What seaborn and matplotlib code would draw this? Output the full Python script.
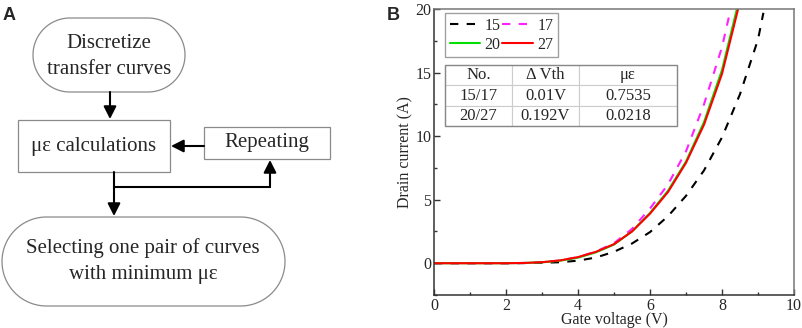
import numpy as np
import pandas as pd
import matplotlib
matplotlib.use("Agg")
import matplotlib.pyplot as plt
from matplotlib.patches import Rectangle, Polygon
from matplotlib.ticker import MultipleLocator
import seaborn as sns

sns.set_style("ticks")
plt.rcParams["font.family"] = ["Liberation Serif", "DejaVu Serif"]

# Transfer curves (gate voltage in V, drain current in A)
v_15 = [0, 0.5, 1, 1.5, 2, 2.5, 3, 3.5, 4, 4.5, 5, 5.5, 6, 6.5, 7, 7.5, 8, 8.5, 9, 9.15]
i_15 = [0, 0, 0, 0, 0, 0.01, 0.03, 0.08, 0.2, 0.45, 0.9, 1.55, 2.45, 3.7, 5.3, 7.3, 9.9, 13.3, 17.6, 19.7]
v_17 = [0, 0.5, 1, 1.5, 2, 2.5, 3, 3.5, 4, 4.5, 5, 5.5, 6, 6.5, 7, 7.5, 8, 8.25]
i_17 = [0, 0, 0, 0, 0, 0.02, 0.08, 0.22, 0.48, 0.92, 1.58, 2.7, 4.3, 6.2, 8.8, 12.5, 17.0, 20.1]
v_20 = [0, 0.5, 1, 1.5, 2, 2.5, 3, 3.5, 4, 4.5, 5, 5.5, 6, 6.5, 7, 7.5, 8, 8.5]
i_20 = [0, 0, 0, 0, 0, 0.02, 0.07, 0.2, 0.44, 0.86, 1.47, 2.5, 3.95, 5.7, 8.0, 11.1, 15.2, 21.0]
v_27 = [0, 0.5, 1, 1.5, 2, 2.5, 3, 3.5, 4, 4.5, 5, 5.5, 6, 6.5, 7, 7.5, 8, 8.5]
i_27 = [0, 0, 0, 0, 0, 0.02, 0.08, 0.22, 0.48, 0.9, 1.5, 2.5, 3.9, 5.6, 7.9, 10.9, 14.9, 20.6]

table_cols = ["No.", "\u0394 Vth", "\u03bc\u03b5"]
table_rows = [["15/17", "0.01V", "0.7535"],
              ["20/27", "0.192V", "0.0218"]]

fig = plt.figure(figsize=(8.03, 3.28), dpi=100)

# ---------------- Panel A: flowchart in pixel coordinates ----------------
axA = fig.add_axes([0, 0, 400 / 803, 1])
axA.set_xlim(0, 400)
axA.set_ylim(328, 0)
axA.axis("off")

edge = "#8a8a8a"
fs = 15


def stadium(x0, y0, x1, y1):
    r = (y1 - y0) / 2
    yc = (y0 + y1) / 2
    t = np.linspace(-np.pi / 2, np.pi / 2, 60)
    right = np.column_stack([x1 - r + r * np.cos(t), yc + r * np.sin(t)])
    left = np.column_stack([x0 + r - r * np.cos(t), yc - r * np.sin(t)])
    axA.add_patch(Polygon(np.vstack([right, left]), closed=True, fc="white", ec=edge, lw=0.9))


def box(x0, y0, x1, y1):
    axA.add_patch(Rectangle((x0, y0), x1 - x0, y1 - y0, fc="white", ec=edge, lw=0.9))


def arrow(x0, y0, x1, y1):
    axA.annotate("", xy=(x1, y1), xytext=(x0, y0),
                 arrowprops=dict(arrowstyle="-|>,head_length=0.75,head_width=0.38",
                                 color="black", lw=1.5, shrinkA=0, shrinkB=0))


stadium(33, 18, 185, 92)
axA.text(109, 44, "Discretize", ha="center", va="center", fontsize=fs)
axA.text(109, 69, "transfer curves", ha="center", va="center", fontsize=fs)

box(18, 120, 170, 172)
axA.text(94, 146, "\u03bc\u03b5 calculations", ha="center", va="center", fontsize=fs)

box(204, 127, 330, 159)
axA.text(267, 143, "Repeating", ha="center", va="center", fontsize=fs)

stadium(2, 217, 285, 306)
axA.text(143, 248, "Selecting one pair of curves", ha="center", va="center", fontsize=fs)
axA.text(143, 274, "with minimum \u03bc\u03b5", ha="center", va="center", fontsize=fs)

arrow(110, 92, 110, 119)
arrow(204, 146, 171, 146)
axA.plot([114, 114, 270], [172, 187, 187], color="black", lw=1.5, solid_joinstyle="miter")
arrow(270, 187, 270, 160)
arrow(114, 187, 114, 216)

fig.text(3 / 803, 1 - 15 / 328, "A", fontsize=13, fontweight="bold",
         family="Liberation Sans", va="center", ha="left")
fig.text(387 / 803, 1 - 15 / 328, "B", fontsize=13, fontweight="bold",
         family="Liberation Sans", va="center", ha="left")

# ---------------- Panel B: transfer curves ----------------
axB = fig.add_axes([434 / 803, 33 / 328, 360 / 803, 286 / 328])

series = [("15", v_15, i_15, "black", (0, (4, 4))),
          ("17", v_17, i_17, "#ff22ff", (0, (4, 4))),
          ("20", v_20, i_20, "#00e000", "-"),
          ("27", v_27, i_27, "#ff0000", "-")]
handles = {}
for name, v, i, c, ls in series:
    df = pd.DataFrame({"Gate voltage (V)": v, "Drain current (A)": i})
    sns.lineplot(data=df, x="Gate voltage (V)", y="Drain current (A)", ax=axB,
                 color=c, linestyle=ls, lw=1.5, label=name)
    handles[name] = axB.get_lines()[-1]

axB.set_xlim(0, 10)
axB.set_ylim(-2.5, 20)
axB.xaxis.set_major_locator(MultipleLocator(2))
axB.xaxis.set_minor_locator(MultipleLocator(1))
axB.yaxis.set_major_locator(MultipleLocator(5))
axB.yaxis.set_minor_locator(MultipleLocator(2.5))
axB.tick_params(which="both", direction="in", labelsize=11.5, width=1, color="#333333", pad=2,
                top=False, right=False)
axB.tick_params(which="major", length=4)
axB.tick_params(which="minor", length=2)
for s in ["left", "bottom"]:
    axB.spines[s].set_color("#333333")
    axB.spines[s].set_linewidth(1.1)
for s in ["top", "right"]:
    axB.spines[s].set_color("#777777")
    axB.spines[s].set_linewidth(1.1)
axB.set_xlabel("Gate voltage (V)", fontsize=11.5, labelpad=-1)
axB.set_ylabel("Drain current (A)", fontsize=11.5, labelpad=1)

order = ["15", "20", "17", "27"]
leg = axB.legend([handles[k] for k in order], order, ncol=2, loc="upper left",
                 bbox_to_anchor=(0.03, 0.987), fontsize=11.5, frameon=True, fancybox=False,
                 handlelength=1.9, handletextpad=0.3, columnspacing=0.1, borderpad=0.3,
                 labelspacing=0.2, borderaxespad=0)
leg.get_frame().set_edgecolor("#888888")
leg.get_frame().set_linewidth(1.0)

tab = axB.table(cellText=table_rows, colLabels=table_cols, cellLoc="center",
                colWidths=[67 / 232, 67 / 232, 98 / 232],
                bbox=[0.0306, 0.591, 0.644, 0.213])
tab.auto_set_font_size(False)
tab.set_fontsize(12)
for (r, c), cell in tab.get_celld().items():
    cell.set_edgecolor("#cccccc")
    cell.set_linewidth(0.8)
axB.add_patch(Rectangle((0.0306, 0.591), 0.644, 0.213, transform=axB.transAxes,
                        fill=False, ec="#888888", lw=1.0, zorder=5))

fig.savefig("out.png", dpi=100)
